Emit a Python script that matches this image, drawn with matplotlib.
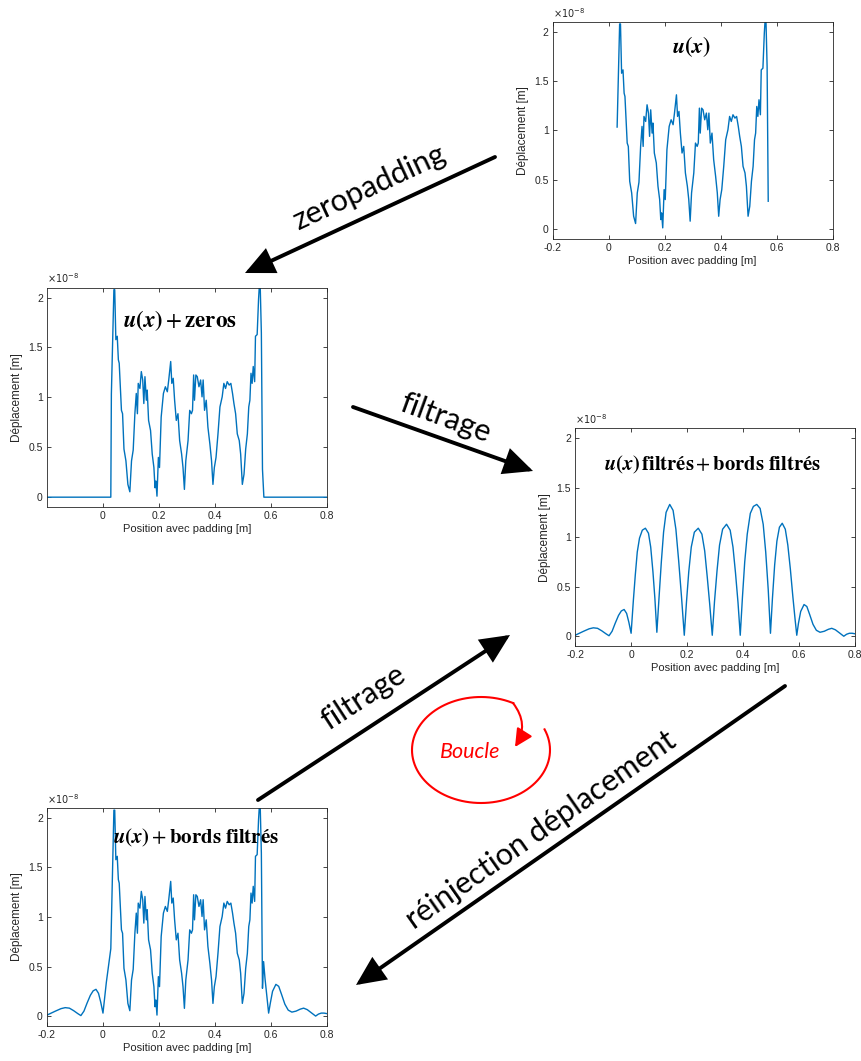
import matplotlib
matplotlib.use("Agg")
import matplotlib.pyplot as plt
from matplotlib.patches import FancyArrowPatch
import numpy as np

plt.rcParams["font.family"] = ["Liberation Sans", "DejaVu Sans"]

# raw displacement u(x) on the plate, x in m, values in 1e-8 m
raw_x = [0.030, 0.039, 0.042, 0.046, 0.051, 0.055, 0.058, 0.062, 0.066, 0.070,
         0.075, 0.082, 0.089, 0.096, 0.102, 0.108, 0.114, 0.119, 0.123, 0.126,
         0.132, 0.137, 0.142, 0.146, 0.150, 0.155, 0.158, 0.163, 0.170, 0.176,
         0.182, 0.186, 0.189, 0.193, 0.198, 0.202, 0.208, 0.216, 0.223, 0.230,
         0.235, 0.242, 0.246, 0.251, 0.256, 0.262, 0.268, 0.274, 0.281, 0.286,
         0.291, 0.296, 0.304, 0.310, 0.316, 0.320, 0.324, 0.327, 0.332, 0.337,
         0.343, 0.349, 0.354, 0.358, 0.363, 0.369, 0.375, 0.382, 0.388, 0.393,
         0.398, 0.404, 0.411, 0.418, 0.426, 0.432, 0.438, 0.444, 0.451, 0.457,
         0.463, 0.468, 0.474, 0.480, 0.487, 0.492, 0.498, 0.504, 0.510, 0.516,
         0.521, 0.525, 0.529, 0.533, 0.537, 0.542, 0.545, 0.551, 0.556, 0.561,
         0.566, 0.570]
raw_y = [1.032, 2.078, 2.078, 1.578, 1.612, 1.376, 1.342, 1.106, 0.870, 0.836,
         0.482, 0.364, 0.128, 0.054, 0.364, 0.472, 0.836, 1.039, 0.836, 1.140,
         1.089, 1.258, 1.174, 0.938, 1.207, 0.971, 1.073, 0.769, 0.668, 0.432,
         0.297, 0.094, 0.162, 0.010, 0.398, 0.297, 0.803, 1.039, 1.106, 1.056,
         1.174, 1.359, 1.140, 1.191, 0.971, 0.769, 0.836, 0.567, 0.432, 0.297,
         0.078, 0.364, 0.567, 0.870, 0.836, 0.870, 1.224, 0.971, 1.224, 1.207,
         1.106, 1.174, 1.005, 1.174, 0.870, 0.971, 0.702, 0.533, 0.364, 0.128,
         0.297, 0.398, 0.634, 0.904, 1.005, 1.140, 1.089, 1.157, 1.123, 1.140,
         1.039, 0.938, 0.836, 0.634, 0.567, 0.432, 0.128, 0.229, 0.482, 0.634,
         0.904, 0.971, 1.241, 1.140, 1.309, 1.157, 1.612, 1.629, 1.983, 2.219,
         1.646, 0.280]

# zero padding limits
pad_left_x = [-0.2, 0.028]
pad_right_x = [0.575, 0.8]

# filtered signal (u(x) + padded borders)
filt_x = [-0.200, -0.185, -0.170, -0.150, -0.135, -0.120, -0.105, -0.090, -0.079, -0.068,
          -0.057, -0.045, -0.035, -0.025, -0.016, -0.008, 0.000,
          0.008, 0.015, 0.022, 0.030, 0.040, 0.051, 0.062, 0.070, 0.078, 0.085, 0.092,
          0.100, 0.108, 0.116, 0.125, 0.138, 0.150, 0.160, 0.170, 0.180, 0.190,
          0.198, 0.206, 0.215, 0.226, 0.240, 0.253, 0.263, 0.272, 0.281, 0.290,
          0.298, 0.307, 0.316, 0.327, 0.341, 0.354, 0.364, 0.373, 0.382, 0.390,
          0.398, 0.406, 0.415, 0.426, 0.437, 0.449, 0.461, 0.472, 0.481, 0.490, 0.498,
          0.505, 0.513, 0.521, 0.530, 0.540, 0.551, 0.560, 0.569, 0.578, 0.586, 0.592,
          0.598, 0.606, 0.618, 0.628, 0.638, 0.650, 0.662, 0.675, 0.690, 0.705,
          0.717, 0.730, 0.744, 0.760, 0.770, 0.780, 0.790, 0.800]
filt_y = [0.010, 0.030, 0.050, 0.075, 0.085, 0.080, 0.055, 0.025, 0.005, 0.050,
          0.130, 0.210, 0.255, 0.270, 0.230, 0.140, 0.030,
          0.360, 0.620, 0.850, 0.990, 1.070, 1.090, 1.040, 0.900, 0.650, 0.380, 0.040,
          0.400, 0.750, 1.050, 1.250, 1.330, 1.270, 1.080, 0.760, 0.400, 0.010,
          0.350, 0.650, 0.900, 1.050, 1.090, 1.030, 0.860, 0.600, 0.320, 0.010,
          0.350, 0.660, 0.920, 1.080, 1.130, 1.070, 0.900, 0.640, 0.340, 0.010,
          0.400, 0.750, 1.030, 1.240, 1.310, 1.330, 1.290, 1.130, 0.850, 0.470, 0.030,
          0.380, 0.720, 0.960, 1.100, 1.140, 1.080, 0.920, 0.680, 0.400, 0.170, 0.010,
          0.130, 0.250, 0.320, 0.300, 0.220, 0.120, 0.060, 0.040, 0.050, 0.070,
          0.080, 0.065, 0.035, 0.000, 0.020, 0.030, 0.030, 0.025]

# junctions between raw signal and filtered borders (last plot)
join_left_x = [0.012, 0.022, 0.028]
join_left_y = [0.34, 0.55, 0.68]
join_right_x = [0.574, 0.579, 0.585, 0.592]
join_right_y = [0.55, 0.38, 0.22, 0.03]

x_ticks = [-0.2, 0, 0.2, 0.4, 0.6, 0.8]
x_labels = ["-0.2", "0", "0.2", "0.4", "0.6", "0.8"]
y_ticks = [0, 0.5, 1, 1.5, 2]
y_labels = ["0", "0.5", "1", "1.5", "2"]

LINE = "#0072BD"
GREY = "#262626"

fig = plt.figure(figsize=(8.61, 10.61), dpi=100)


def make_axes(rect, title, title_pos, title_size, skip_first_tick=False):
    ax = fig.add_axes(rect)
    ax.set_xlim(-0.2, 0.8)
    ax.set_ylim(-0.1, 2.1)
    xt, xl = (x_ticks[1:], x_labels[1:]) if skip_first_tick else (x_ticks, x_labels)
    ax.set_xticks(xt)
    ax.set_xticklabels(xl)
    ax.set_yticks(y_ticks)
    ax.set_yticklabels(y_labels)
    ax.tick_params(direction="in", top=True, right=True, length=3, width=0.6,
                   labelsize=7.5, colors=GREY, pad=3)
    for sp in ax.spines.values():
        sp.set_color(GREY)
        sp.set_linewidth(0.6)
    ax.set_xlabel("Position avec padding [m]", fontsize=8, color=GREY, labelpad=2)
    ax.set_ylabel("Déplacement [m]", fontsize=8.5, color=GREY, labelpad=4)
    ax.text(0.0, 1.01, r"$\times10^{-8}$", transform=ax.transAxes, fontsize=7,
            color=GREY, va="bottom", ha="left")
    ax.text(title_pos[0], title_pos[1], title, transform=ax.transAxes,
            fontsize=title_size, ha="center", va="center", math_fontfamily="stix")
    return ax


U = r"\mathbfit{u}\mathbf{(}\mathbfit{x}\mathbf{)}"

# top right: raw signal
ax1 = make_axes([0.642, 0.775, 0.325, 0.2045], "$" + U + "$", (0.496, 0.885), 16)
ax1.plot(raw_x, raw_y, color=LINE, lw=1.0)

# middle left: zero padded
ax2 = make_axes([0.0546, 0.522, 0.325, 0.207], "$" + U + r"+\mathbf{zeros}$",
                (0.475, 0.85), 16.5, skip_first_tick=True)
pad_x = pad_left_x + raw_x + pad_right_x
pad_y = [0, 0] + raw_y + [0, 0]
ax2.plot(pad_x, pad_y, color=LINE, lw=1.0)

# middle right: filtered
ax3 = make_axes([0.668, 0.391, 0.325, 0.2055],
                "$" + U + r"\,\mathbf{filtrés}+\mathbf{bords\ filtrés}$", (0.489, 0.83), 14.8)
ax3.plot(filt_x, filt_y, color=LINE, lw=1.0)

# bottom left: raw signal + filtered borders
fx = np.array(filt_x)
fy = np.array(filt_y)
left = fx <= 0.0
right = fx >= 0.595
comb_x = list(fx[left]) + join_left_x + raw_x[1:] + join_right_x + list(fx[right])
comb_y = list(fy[left]) + join_left_y + raw_y[1:] + join_right_y + list(fy[right])
ax4 = make_axes([0.0546, 0.033, 0.325, 0.2055],
                "$" + U + r"+\mathbf{bords\ filtrés}$", (0.532, 0.862), 15)
ax4.plot(comb_x, comb_y, color=LINE, lw=1.0)

# overlay in pixel coordinates for the arrows
ov = fig.add_axes([0, 0, 1, 1], zorder=10)
ov.set_xlim(0, 861)
ov.set_ylim(1061, 0)
ov.axis("off")
ov.patch.set_alpha(0)


def big_arrow(p0, p1):
    ov.add_patch(FancyArrowPatch(p0, p1, arrowstyle="-|>,head_length=1.5,head_width=0.7",
                                 mutation_scale=11, lw=2.8, color="black",
                                 shrinkA=0, shrinkB=0, joinstyle="miter"))


big_arrow((495, 157), (245, 273))
big_arrow((353, 407), (533, 471))
big_arrow((258, 800), (510, 635))
big_arrow((785, 686), (356, 985))

arrow_font = dict(family=["Lato", "DejaVu Sans"], fontsize=22, ha="center", va="center")
ov.text(369, 187, "zeropadding", rotation=25, **arrow_font)
ov.text(445, 418, "filtrage", rotation=-20, **arrow_font)
ov.text(363, 698, "filtrage", rotation=33, **arrow_font)
ov.text(541, 830, "réinjection déplacement", rotation=35, **arrow_font)

# loop symbol
t = np.linspace(-0.4, 5.2, 200)
ov.plot(481 + 69 * np.cos(t), 750 + 53 * np.sin(t), color="red", lw=1.5)
ov.add_patch(FancyArrowPatch((513, 703), (515, 747), connectionstyle="arc3,rad=-0.35",
                             arrowstyle="-|>,head_length=1.2,head_width=0.6",
                             mutation_scale=9, lw=1.5, color="red",
                             shrinkA=0, shrinkB=0))
ov.text(470, 752, "Boucle", color="red", fontsize=15.5, style="italic",
        family=["Lato", "DejaVu Sans"], ha="center", va="center")

fig.savefig("out.png", dpi=100)
